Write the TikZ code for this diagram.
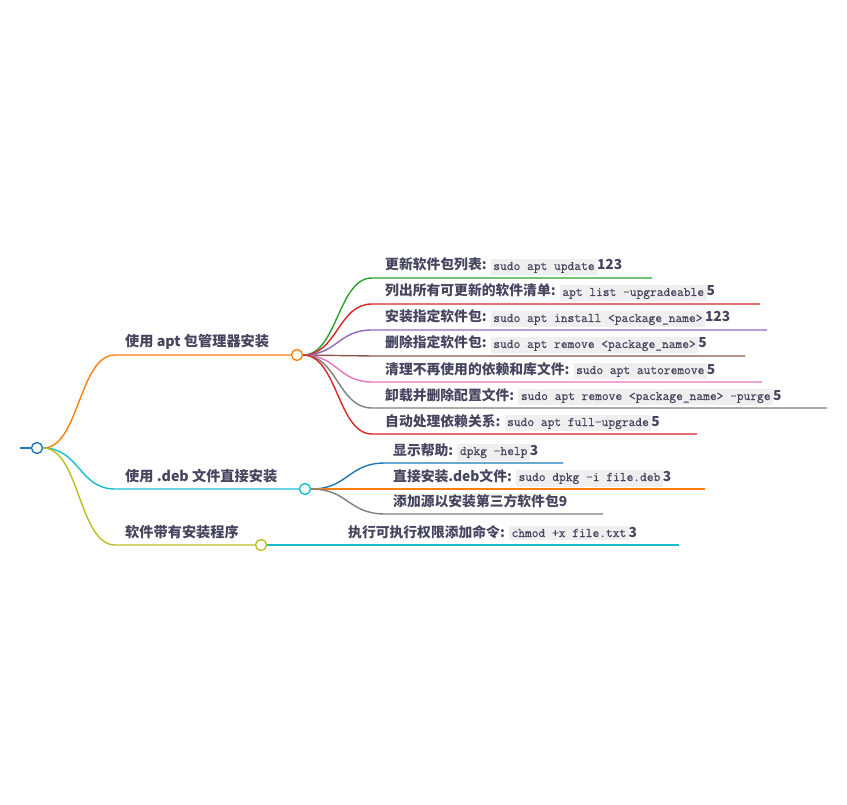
\documentclass[tikz,border=0pt]{standalone}
\usepackage{fontspec}
\setmainfont{Noto Sans CJK SC}
\setmonofont{Latin Modern Mono}[FakeBold=0.6]
\usepackage{xcolor}
\usetikzlibrary{positioning}

\definecolor{cblue}{HTML}{1F77B4}
\definecolor{corange}{HTML}{FF7F0E}
\definecolor{cgreen}{HTML}{2CA02C}
\definecolor{cred}{HTML}{D62728}
\definecolor{cpurple}{HTML}{9467BD}
\definecolor{cbrown}{HTML}{8C564B}
\definecolor{cpink}{HTML}{E377C2}
\definecolor{cgray}{HTML}{7F7F7F}
\definecolor{colive}{HTML}{BCBD22}
\definecolor{ccyan}{HTML}{17BECF}
\definecolor{txt}{HTML}{45455F}
\definecolor{codebg}{HTML}{EFEFEF}

% inline code box
\newcommand{\cmd}[1]{{\setlength{\fboxsep}{2.5pt}\colorbox{codebg}{\fontsize{13.1}{14}\selectfont\ttfamily\mdseries #1}}}

\begin{document}
\begin{tikzpicture}[
    x=1pt, y=-1pt,
    every node/.style={font=\fontsize{13.8}{16}\selectfont\bfseries, text=txt, inner sep=0pt},
    branch/.style={line width=1.4pt},
    dot/.style={circle, draw=#1, fill=white, line width=1.4pt, minimum size=11pt, inner sep=0pt},
    leaf/.style={anchor=base west},
    topic/.style={anchor=base west, font=\fontsize{14.2}{17}\selectfont\bfseries}
]
    \useasboundingbox (0,0) rectangle (847,805);

    % Place the nodes
    \node[dot=cblue] (root) at (37,448) {};
    \coordinate (stub) at (20,448);

    \node[dot=corange] (apt) at (297,355) {};
    \node[dot=ccyan] (deb) at (305,489) {};
    \node[dot=colive] (inst) at (261,545) {};

    \node[topic] (l1) at (125,347) {使用 apt 包管理器安装};
    \node[topic] (l2) at (125,481) {使用 .deb 文件直接安装};
    \node[topic] (l3) at (125,537) {软件带有安装程序};

    \coordinate (k1) at (115,355);
    \coordinate (k2) at (115,489);
    \coordinate (k3) at (115,545);

    % apt leaves
    \node[leaf] (a1) at (385,270) {更新软件包列表: \cmd{sudo apt update}123};
    \node[leaf] (a2) at (385,296) {列出所有可更新的软件清单: \cmd{apt list -upgradeable}5};
    \node[leaf] (a3) at (385,322) {安装指定软件包: \cmd{sudo apt install <package\_name>}123};
    \node[leaf] (a4) at (385,348) {删除指定软件包: \cmd{sudo apt remove <package\_name>}5};
    \node[leaf] (a5) at (385,374) {清理不再使用的依赖和库文件: \cmd{sudo apt autoremove}5};
    \node[leaf] (a6) at (385,400) {卸载并删除配置文件: \cmd{sudo apt remove <package\_name> -purge}5};
    \node[leaf] (a7) at (385,426) {自动处理依赖关系: \cmd{sudo apt full-upgrade}5};

    % deb leaves
    \node[leaf] (d1) at (393,455) {显示帮助: \cmd{dpkg -help}3};
    \node[leaf] (d2) at (393,481) {直接安装.deb文件: \cmd{sudo dpkg -i file.deb}3};
    \node[leaf] (d3) at (393,506) {添加源以安装第三方软件包9};

    % installer leaf
    \node[leaf] (i1) at (348,537) {执行可执行权限添加命令: \cmd{chmod +x file.txt}3};

    % line ends under the leaves
    \coordinate (a1s) at (372,278); \coordinate (a1e) at (652,278);
    \coordinate (a2s) at (372,304); \coordinate (a2e) at (760,304);
    \coordinate (a3s) at (372,330); \coordinate (a3e) at (767,330);
    \coordinate (a4s) at (372,356); \coordinate (a4e) at (745,356);
    \coordinate (a5s) at (372,382); \coordinate (a5e) at (762,382);
    \coordinate (a6s) at (372,408); \coordinate (a6e) at (827,408);
    \coordinate (a7s) at (372,434); \coordinate (a7e) at (697,434);
    \coordinate (d1s) at (385,463); \coordinate (d1e) at (563,463);
    \coordinate (d2s) at (385,489); \coordinate (d2e) at (705,489);
    \coordinate (d3s) at (385,514); \coordinate (d3e) at (603,514);
    \coordinate (i1e) at (679,545);

    % Draw the branches
    \draw[branch, cblue] (stub) -- (root);
    \draw[branch, corange] (root.east) .. controls +(36,0) and +(-36,0) .. (k1) -- (apt);
    \draw[branch, ccyan] (root.east) .. controls +(36,0) and +(-36,0) .. (k2) -- (deb);
    \draw[branch, colive] (root.east) .. controls +(36,0) and +(-36,0) .. (k3) -- (inst);

    \draw[branch, cgreen] (apt.east) .. controls +(34,0) and +(-34,0) .. (a1s) -- (a1e);
    \draw[branch, cred] (apt.east) .. controls +(34,0) and +(-34,0) .. (a2s) -- (a2e);
    \draw[branch, cpurple] (apt.east) .. controls +(34,0) and +(-34,0) .. (a3s) -- (a3e);
    \draw[branch, cbrown] (apt.east) .. controls +(34,0) and +(-34,0) .. (a4s) -- (a4e);
    \draw[branch, cpink] (apt.east) .. controls +(34,0) and +(-34,0) .. (a5s) -- (a5e);
    \draw[branch, cgray] (apt.east) .. controls +(34,0) and +(-34,0) .. (a6s) -- (a6e);
    \draw[branch, cred] (apt.east) .. controls +(34,0) and +(-34,0) .. (a7s) -- (a7e);

    \draw[branch, cblue] (deb.east) .. controls +(37,0) and +(-37,0) .. (d1s) -- (d1e);
    \draw[branch, corange] (deb.east) .. controls +(37,0) and +(-37,0) .. (d2s) -- (d2e);
    \draw[branch, cgray] (deb.east) .. controls +(37,0) and +(-37,0) .. (d3s) -- (d3e);

    \draw[branch, ccyan] (inst.east) -- (i1e);
\end{tikzpicture}
\end{document}
